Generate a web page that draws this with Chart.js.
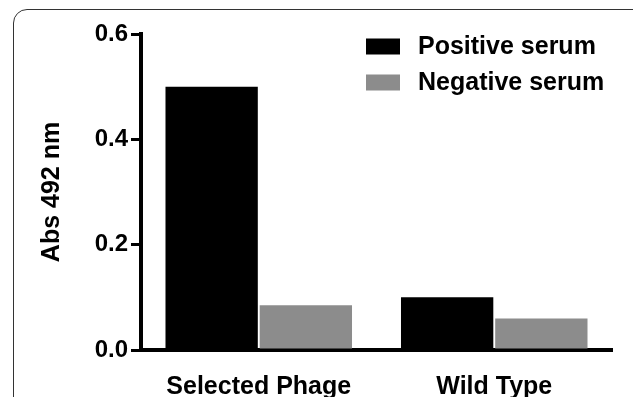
<!DOCTYPE html>
<html>
<head>
<meta charset="utf-8">
<script src="https://cdn.jsdelivr.net/npm/chart.js@4/dist/chart.umd.min.js"></script>
<style>
  html, body { margin: 0; padding: 0; background: #fff; }
  #wrap { position: relative; width: 633px; height: 397px; overflow: hidden; }
  #frame {
    position: absolute; left: 13px; top: 9px; width: 640px; height: 440px;
    border: 1.5px solid #333; border-radius: 14px; box-sizing: border-box;
  }
  canvas { position: absolute; left: 0; top: 0; }
</style>
</head>
<body>
<div id="wrap">
  <div id="frame"></div>
  <canvas id="chart" width="633" height="397"></canvas>
</div>
<script>
// ELISA absorbance of phage against positive and negative serum
const categories = ['Selected Phage', 'Wild Type'];
const seriesNames = ['Positive serum', 'Negative serum'];
const positiveSerum = [0.50, 0.10];
const negativeSerum = [0.085, 0.06];
const yTicks = [0.0, 0.2, 0.4, 0.6];
const yTitle = 'Abs 492 nm';

const FONT = '"Liberation Sans", Arial, Helvetica, sans-serif';

// Legend drawn at the top right inside the plot, from the dataset labels/colours
const boxLegend = {
  id: 'boxLegend',
  afterDraw(chart) {
    const ctx = chart.ctx;
    ctx.save();
    ctx.font = 'bold 25px ' + FONT;
    ctx.textBaseline = 'middle';
    ctx.textAlign = 'left';
    chart.data.datasets.forEach((ds, i) => {
      const cy = 46.5 + i * 36;
      ctx.fillStyle = ds.backgroundColor;
      ctx.fillRect(366, cy - 8, 34, 16);
      ctx.fillStyle = '#000';
      ctx.fillText(ds.label, 418, cy + 1);
    });
    ctx.restore();
  }
};

new Chart(document.getElementById('chart'), {
  type: 'bar',
  data: {
    labels: categories,
    datasets: [
      { label: seriesNames[0], data: positiveSerum, backgroundColor: '#000000' },
      { label: seriesNames[1], data: negativeSerum, backgroundColor: '#8c8c8c' }
    ]
  },
  options: {
    responsive: false,
    animation: false,
    devicePixelRatio: 1,
    layout: { padding: { top: 34, right: 21, bottom: 0, left: 0 } },
    datasets: { bar: { categoryPercentage: 0.8, barPercentage: 0.98, borderWidth: 0 } },
    plugins: { legend: { display: false }, tooltip: { enabled: false } },
    scales: {
      x: {
        z: 1,
        grid: { display: false, drawTicks: false },
        border: { display: true, width: 4, color: '#000' },
        ticks: { color: '#000', padding: 22, font: { family: FONT, size: 25, weight: 'bold' } },
        afterFit(scale) { scale.height = 47; }
      },
      y: {
        min: 0,
        max: 0.6,
        grid: { display: true, drawOnChartArea: false, drawTicks: true, tickLength: 10, color: '#000', lineWidth: 3 },
        border: { display: true, width: 4, color: '#000' },
        ticks: {
          color: '#000', padding: 3,
          font: { family: FONT, size: 24, weight: 'bold' },
          callback: (v) => Number(v).toFixed(1)
        },
        afterBuildTicks(scale) { scale.ticks = yTicks.map(v => ({ value: v })); },
        title: {
          display: true, text: yTitle, color: '#000',
          font: { family: FONT, size: 25, weight: 'bold' },
          padding: { top: 37, bottom: 0 }
        },
        afterFit(scale) { scale.width = 141; }
      }
    }
  },
  plugins: [boxLegend]
});
</script>
</body>
</html>
